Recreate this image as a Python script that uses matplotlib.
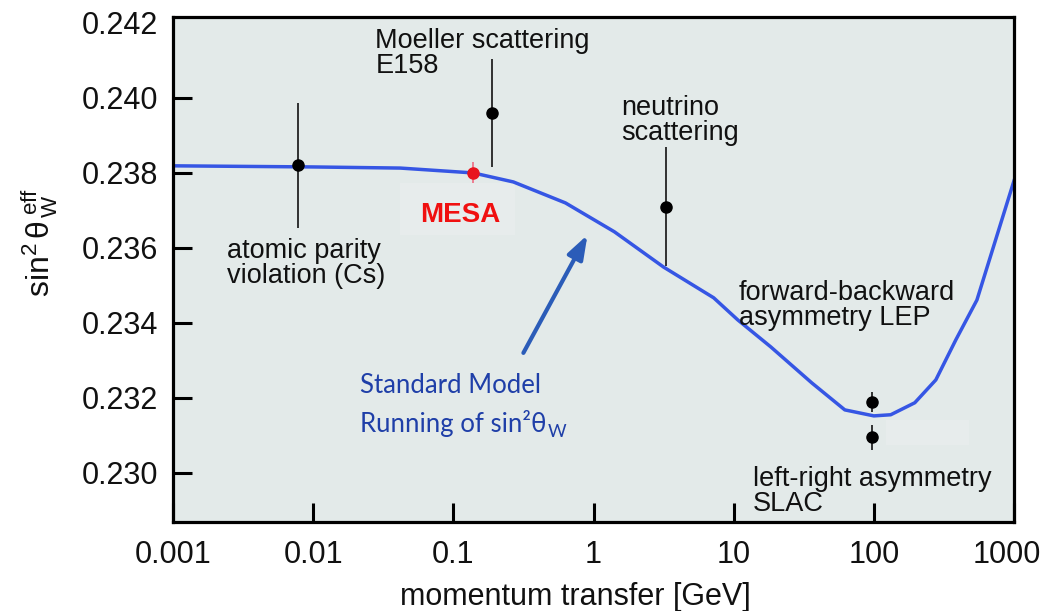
import numpy as np
import matplotlib
matplotlib.use("Agg")
import matplotlib.pyplot as plt
from matplotlib.patches import Rectangle
from matplotlib.transforms import ScaledTranslation

plt.rcParams['font.family'] = ['Liberation Sans', 'DejaVu Sans']
plt.rcParams['mathtext.fontset'] = 'custom'
plt.rcParams['mathtext.rm'] = 'Liberation Sans'
plt.rcParams['mathtext.it'] = 'Liberation Sans'
plt.rcParams['mathtext.bf'] = 'Liberation Sans:bold'

# Standard Model running of the weak mixing angle
sm_q = [0.001, 0.01, 0.0418, 0.139, 0.268, 0.631, 1.41, 3.16, 7.2, 10.7,
        18.4, 36.1, 62.1, 100, 132, 196, 277, 385, 544, 1000]
sm_s2w = [0.23819, 0.23816, 0.23813, 0.23800, 0.23776, 0.23720, 0.23643,
          0.23549, 0.23467, 0.23408, 0.23336, 0.23240, 0.23168, 0.23152,
          0.23155, 0.23187, 0.23248, 0.23355, 0.23461, 0.23779]

# Measurements
meas_names = ["atomic parity\nviolation (Cs)", "Moeller scattering\nE158",
              "neutrino\nscattering", "forward-backward\nasymmetry LEP",
              "left-right asymmetry\nSLAC"]
meas_q = [0.0078, 0.19, 3.27, 97, 97]
meas_s2w = [0.2382, 0.2396, 0.2371, 0.23189, 0.23095]
meas_err = [0.00167, 0.00145, 0.00159, 0.00027, 0.00033]

# MESA projection
mesa_q = [0.139]
mesa_s2w = [0.23801]
mesa_err = [0.00028]

x_ticks = [0.001, 0.01, 0.1, 1, 10, 100, 1000]
x_ticklabels = ["0.001", "0.01", "0.1", "1", "10", "100", "1000"]
y_ticks = [0.230, 0.232, 0.234, 0.236, 0.238, 0.240, 0.242]
y_ticklabels = ["0.230", "0.232", "0.234", "0.236", "0.238", "0.240", "0.242"]

bg = '#E3EAE9'
fig = plt.figure(figsize=(10.45, 6.11), dpi=100)
ax = fig.add_axes([0.1656, 0.1457, 0.8047, 0.8265])
ax.set_facecolor(bg)
ax.set_xscale('log')
ax.set_xlim(0.001, 1000)
ax.set_ylim(0.22869, 0.24216)

# lighter label backdrops
ax.add_patch(Rectangle((0.0418, 0.236347), 0.2775 - 0.0418, 0.237733 - 0.236347,
                       facecolor='#E7ECEC', edgecolor='none', zorder=0.5))
ax.add_patch(Rectangle((122, 0.230747), 477 - 122, 0.231413 - 0.230747,
                       facecolor='#E7ECEC', edgecolor='none', zorder=0.5))

ax.plot(sm_q, sm_s2w, color='#3656E4', lw=2.5, zorder=2)

ax.errorbar(meas_q, meas_s2w, yerr=meas_err, fmt='o', color='black',
            ms=8, elinewidth=1.1, capsize=0, zorder=3)
ax.errorbar(mesa_q, mesa_s2w, yerr=mesa_err, fmt='o', color='#E8141E',
            ecolor='#F0607A', ms=8, elinewidth=1.1, capsize=0, zorder=4)

# measurement labels (anchored at the baseline of the last line)
label_pos = [(0.00243, 0.235067), (0.02773, 0.240667), (1.585, 0.23888),
             (10.86, 0.233947), (13.7, 0.228987)]
for name, (lx, ly) in zip(meas_names, label_pos):
    ax.text(lx, ly, name, fontsize=19.5, color='#111111', ha='left',
            va='baseline', linespacing=0.95, zorder=5)

ax.text(0.0581, 0.236693, "MESA", fontsize=20, fontweight='bold',
        color='#F01010', ha='left', va='baseline', zorder=5)

# Standard Model annotation
ax.annotate("", xy=(0.906, 0.236347), xytext=(0.316, 0.2332),
            arrowprops=dict(arrowstyle='-|>,head_length=0.8,head_width=0.28',
                            color='#2B5CB8', lw=3, mutation_scale=18,
                            shrinkA=0, shrinkB=0), zorder=5)
blue = '#1F3FA8'
sm_family = ['Lato', 'Open Sans', 'DejaVu Sans']
ax.text(0.02168, 0.232133, "Standard Model", fontsize=18.5, color=blue,
        family=sm_family, ha='left', va='baseline', zorder=5)
run_txt = ax.text(0.02168, 0.231093, "Running of sin\u00b2\u03b8", fontsize=18.5,
                  color=blue, family=sm_family, ha='left', va='baseline', zorder=5)
ax.annotate("W", xy=(1, 0), xycoords=run_txt, xytext=(0.5, -2),
            textcoords='offset points', fontsize=13, color=blue,
            family=sm_family, ha='left', va='bottom', zorder=5)

# axes styling
for sp in ax.spines.values():
    sp.set_linewidth(2.3)
    sp.set_color('black')
ax.set_xticks(x_ticks)
ax.set_xticklabels(x_ticklabels)
ax.set_yticks(y_ticks)
ax.set_yticklabels(y_ticklabels)
ax.minorticks_off()
ax.tick_params(axis='both', direction='in', length=14, width=2.2,
               labelsize=22, top=False, right=False, colors='black')
ax.tick_params(axis='x', pad=13)
ax.tick_params(axis='y', pad=11)
ax.yaxis.get_major_ticks()[-1].tick1line.set_visible(False)
for lab in ax.get_xticklabels() + ax.get_yticklabels():
    lab.set_color('#111111')
# keep the last x tick label inside the canvas
last_lab = ax.get_xticklabels()[-1]
last_lab.set_transform(last_lab.get_transform()
                       + ScaledTranslation(-7 / 100, 0, fig.dpi_scale_trans))

ax.set_xlabel("momentum transfer [GeV]", fontsize=22, color='#111111')
ax.xaxis.set_label_coords(0.478, -0.149)
ax.xaxis.label.set_va('center')
ax.set_ylabel(r"$\mathrm{sin}^{2}\,\theta^{\,\mathrm{eff}}_{\,\mathrm{W}}$",
              fontsize=23, color='#111111')
ax.yaxis.set_label_coords(-0.158, 0.554)
ax.yaxis.label.set_va('center')

fig.savefig("out.png", dpi=100, facecolor='white')
